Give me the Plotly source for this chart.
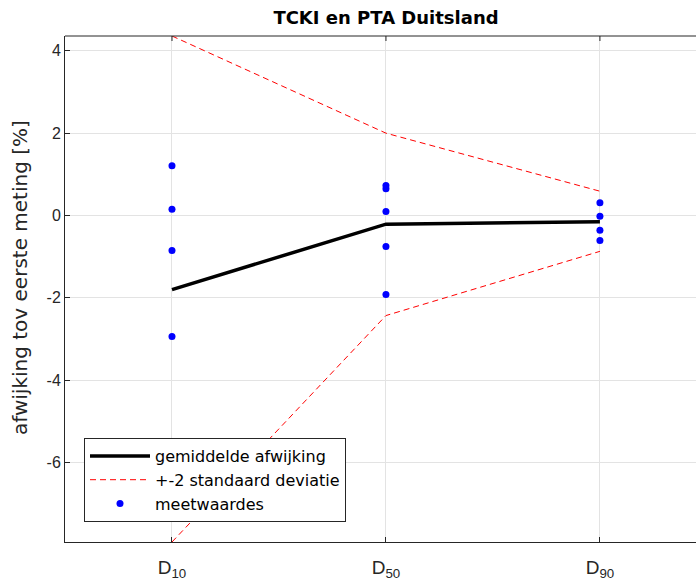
import plotly.graph_objects as go

categories = ["D<sub>10</sub>", "D<sub>50</sub>", "D<sub>90</sub>"]
xpos = [1, 2, 3]
mean_dev = [-1.80, -0.21, -0.15]
upper_2sd = [4.36, 2.00, 0.59]
lower_2sd = [-7.93, -2.43, -0.87]
meas_d10 = [1.21, 0.15, -0.85, -2.94]
meas_d50 = [0.73, 0.65, 0.10, -0.75, -1.92]
meas_d90 = [0.31, -0.02, -0.36, -0.61]
ytick_vals = [-6, -4, -2, 0, 2, 4]
ytick_text = ["-6", "-4", "-2", "0", "2", "4"]

FONT = "Liberation Sans, Arial, Helvetica, sans-serif"
WIDE = "DejaVu Sans, Verdana, sans-serif"
AX = "#262626"

fig = go.Figure()
fig.add_trace(go.Scatter(x=xpos, y=mean_dev, mode="lines", name="gemiddelde afwijking",
                         line=dict(color="black", width=3.5)))
fig.add_trace(go.Scatter(x=xpos + [None] + xpos, y=upper_2sd + [None] + lower_2sd,
                         mode="lines", name="+-2 standaard deviatie",
                         line=dict(color="red", width=1, dash="6px,4px")))
mx, my = [], []
for xi, vals in zip(xpos, [meas_d10, meas_d50, meas_d90]):
    mx += [xi] * len(vals)
    my += vals
fig.add_trace(go.Scatter(x=mx, y=my, mode="markers", name="meetwaardes",
                         marker=dict(color="blue", size=7)))

fig.update_layout(
    width=696, height=582,
    margin=dict(l=65, r=0, t=36, b=40),
    paper_bgcolor="white", plot_bgcolor="white",
    font=dict(family=FONT, color=AX),
    title=dict(text="<b>TCKI en PTA Duitsland</b>", x=386/696, xanchor="center",
               y=1 - 18/582, yanchor="middle", font=dict(size=18, color="black", family=WIDE)),
    showlegend=True,
    legend=dict(x=(84-65)/631, xanchor="left", y=(582-40-522)/506, yanchor="bottom",
                bgcolor="white", bordercolor=AX, borderwidth=1,
                font=dict(size=16, color="black", family=WIDE),
                tracegroupgap=0, itemwidth=60),
)
fig.update_xaxes(range=[0.5, 3.449], tickvals=xpos, ticktext=categories,
                 showgrid=True, gridcolor="#e3e3e3", gridwidth=1,
                 showline=True, linecolor=AX, linewidth=1,
                 ticks="inside", ticklen=5, tickcolor=AX, ticklabelstandoff=8,
                 tickfont=dict(size=19, color=AX), zeroline=False)
fig.update_yaxes(range=[-7.93, 4.36], tickvals=ytick_vals, ticktext=ytick_text,
                 showgrid=True, gridcolor="#e3e3e3", gridwidth=1,
                 showline=True, linecolor=AX, linewidth=1,
                 ticks="inside", ticklen=5, tickcolor=AX,
                 tickfont=dict(size=16, color=AX), zeroline=False)
fig.add_annotation(text="afwijking tov eerste meting [%]", xref="paper", yref="paper",
                   x=-45/631, y=(541-277)/506, xanchor="center", yanchor="middle",
                   textangle=-90, showarrow=False,
                   font=dict(size=20, color=AX, family=WIDE))
# top border with ticks
fig.add_shape(type="line", xref="paper", yref="paper", x0=0, x1=1, y0=1, y1=1,
              line=dict(color=AX, width=1))
for xi in xpos:
    fig.add_shape(type="line", xref="x", yref="paper", x0=xi, x1=xi, y0=1, y1=1 - 5/506,
                  line=dict(color=AX, width=1))

fig.write_html("out.html")
